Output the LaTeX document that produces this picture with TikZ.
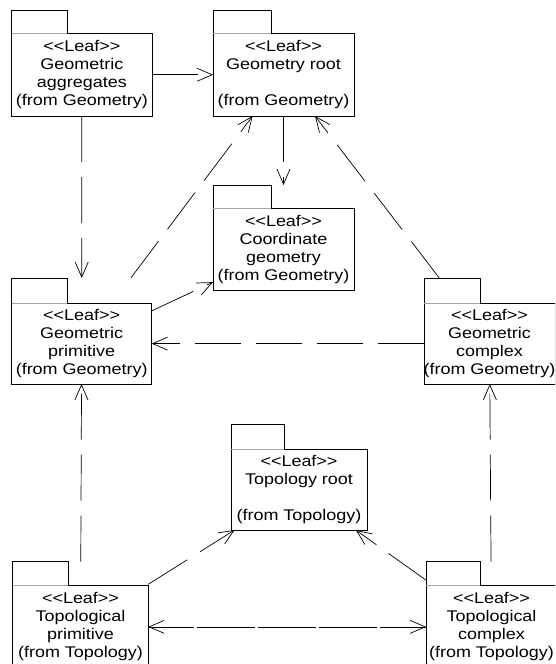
\documentclass[tikz,border=0pt]{standalone}
\usepackage{fontspec}
\setmainfont{Liberation Sans}[FakeStretch=1.16]
\usetikzlibrary{arrows.meta}

\makeatletter
% UML package: a body rectangle with a tab on its upper left corner.
% The centre is the centre of the body; the border used by connectors
% is the outline of body and tab row together.
\pgfkeys{/pgf/pkg tab height/.initial=24pt,/pgf/pkg tab width/.initial=56pt}
\def\pkg@corners{%
  \centerpoint
  \pgf@xc=\pgf@x\relax \pgf@yc=\pgf@y\relax
  \halfsize
  \pgf@xa=\pgf@xc\relax \advance\pgf@xa by -\pgf@x\relax \edef\pkg@L{\the\pgf@xa}%
  \pgf@xa=\pgf@xc\relax \advance\pgf@xa by \pgf@x\relax \edef\pkg@R{\the\pgf@xa}%
  \pgf@ya=\pgf@yc\relax \advance\pgf@ya by -\pgf@y\relax \edef\pkg@B{\the\pgf@ya}%
  \pgf@ya=\pgf@yc\relax \advance\pgf@ya by \pgf@y\relax \edef\pkg@T{\the\pgf@ya}%
  \advance\pgf@ya by \tabh\relax \edef\pkg@TT{\the\pgf@ya}%
  \pgf@xa=\pkg@L\relax \advance\pgf@xa by \tabw\relax \edef\pkg@TR{\the\pgf@xa}%
}
\pgfdeclareshape{umlpackage}{%
  \savedanchor\centerpoint{%
    \pgf@x=.5\wd\pgfnodeparttextbox
    \pgf@y=.5\ht\pgfnodeparttextbox
    \advance\pgf@y by -.5\dp\pgfnodeparttextbox
  }%
  \savedanchor\halfsize{%
    \pgfmathsetlength\pgf@xa{\pgfkeysvalueof{/pgf/minimum width}}%
    \pgfmathsetlength\pgf@ya{\pgfkeysvalueof{/pgf/minimum height}}%
    \pgf@x=.5\pgf@xa
    \pgf@y=.5\pgf@ya
  }%
  \saveddimen\tabh{\pgfmathsetlength\pgf@x{\pgfkeysvalueof{/pgf/pkg tab height}}}%
  \saveddimen\tabw{\pgfmathsetlength\pgf@x{\pgfkeysvalueof{/pgf/pkg tab width}}}%
  \anchor{center}{\centerpoint}%
  \anchor{text}{\pgfpointorigin}%
  \anchorborder{%
    \edef\pkg@dx{\the\pgf@x}%
    \edef\pkg@dy{\the\pgf@y}%
    \halfsize
    \ifdim\pkg@dy>0pt\relax \advance\pgf@y by \tabh\relax\fi
    \edef\pkg@hx{\the\pgf@x}%
    \edef\pkg@hy{\the\pgf@y}%
    \pgfpointborderrectangle{\pgfqpoint{\pkg@dx}{\pkg@dy}}{\pgfqpoint{\pkg@hx}{\pkg@hy}}%
    \edef\pkg@bx{\the\pgf@x}%
    \edef\pkg@by{\the\pgf@y}%
    \centerpoint
    \advance\pgf@x by \pkg@bx\relax
    \advance\pgf@y by \pkg@by\relax
  }%
  \beforebackgroundpath{%
    \pkg@corners
    \pgfscope
    \pgfsetstrokecolor{black!35}%
    \pgfpathmoveto{\pgfqpoint{\pkg@L}{\pkg@T}}%
    \pgfpathlineto{\pgfqpoint{\pkg@TR}{\pkg@T}}%
    \pgfusepath{stroke}%
    \endpgfscope
  }%
  \backgroundpath{%
    \pkg@corners
    \pgfpathmoveto{\pgfqpoint{\pkg@L}{\pkg@B}}%
    \pgfpathlineto{\pgfqpoint{\pkg@L}{\pkg@TT}}%
    \pgfpathlineto{\pgfqpoint{\pkg@TR}{\pkg@TT}}%
    \pgfpathlineto{\pgfqpoint{\pkg@TR}{\pkg@T}}%
    \pgfpathlineto{\pgfqpoint{\pkg@R}{\pkg@T}}%
    \pgfpathlineto{\pgfqpoint{\pkg@R}{\pkg@B}}%
    \pgfpathclose
  }%
}
\makeatother

\newcommand\leafst{<\kern0pt<Leaf>\kern0pt>}

\tikzset{
  pkg/.style={shape=umlpackage, draw=black, line width=0.8pt, align=center,
    inner sep=0pt, font=\fontsize{15.5}{18}\selectfont},
  pkgtab/.style 2 args={/pgf/pkg tab width=#1, /pgf/pkg tab height=#2},
  dep/.style={draw=black, line width=0.7pt, dash pattern=on 46pt off 15pt,
    -{Straight Barb[length=15pt,width=13pt]}},
}

\begin{document}
\begin{tikzpicture}[x=1pt, y=-1pt]
\useasboundingbox (0,0) rectangle (555,664);
\clip (0,0) rectangle (555,664);

% packages of Geometry
\node[pkg, minimum width=140.3pt, minimum height=82.5pt, pkgtab={55.3pt}{23.5pt}]
  (ga) at (81.85,74.75) {\leafst\\Geometric\\aggregates\\(from Geometry)};
\node[pkg, minimum width=141pt, minimum height=82.5pt, pkgtab={58pt}{23.5pt}]
  (gr) at (283.5,74.75) {\leafst\\Geometry root\\\mbox{}\\(from Geometry)};
\node[pkg, minimum width=141pt, minimum height=81.5pt, pkgtab={58pt}{23.5pt}]
  (cg) at (283.5,249.25) {\leafst\\Coordinate\\geometry\\(from Geometry)};
\node[pkg, minimum width=140pt, minimum height=80.7pt, pkgtab={55.3pt}{25.3pt}]
  (gp) at (81.7,343.65) {\leafst\\Geometric\\primitive\\(from Geometry)};
\node[pkg, minimum width=131pt, minimum height=80.7pt, pkgtab={56pt}{25.3pt}]
  (gc) at (489.5,343.65) {\leafst\\Geometric\\complex\\(from Geometry)};

% packages of Topology
\node[pkg, minimum width=136pt, minimum height=81pt, pkgtab={53pt}{25pt}]
  (tr) at (299,489.5) {\leafst\\Topology root\\\mbox{}\\(from Topology)};
\node[pkg, minimum width=135.6pt, minimum height=82.3pt, pkgtab={55.3pt}{24pt}]
  (tp) at (80.5,626.85) {\leafst\\Topological\\primitive\\(from Topology)};
\node[pkg, minimum width=131pt, minimum height=82.3pt, pkgtab={54pt}{24pt}]
  (tc) at (491.5,626.85) {\leafst\\Topological\\complex\\(from Topology)};

% dependencies
\draw[dep] (ga) -- (gr);
\draw[dep] (gr) -- (cg);
\draw[dep] (ga) -- (gp);
\draw[dep] (gp) -- (gr);
\draw[dep] (gp) -- (cg);
\draw[dep] (gc) -- (gp);
\draw[dep] (gc) -- (gr);
\draw[dep] (tp) -- (gp);
\draw[dep] (tc) -- (gc);
\draw[dep] (tp) -- (tr);
\draw[dep] (tc) -- (tr);
\draw[dep] (tp) -- (tc);
\draw[dep] (tc) -- (tp);
\end{tikzpicture}
\end{document}
